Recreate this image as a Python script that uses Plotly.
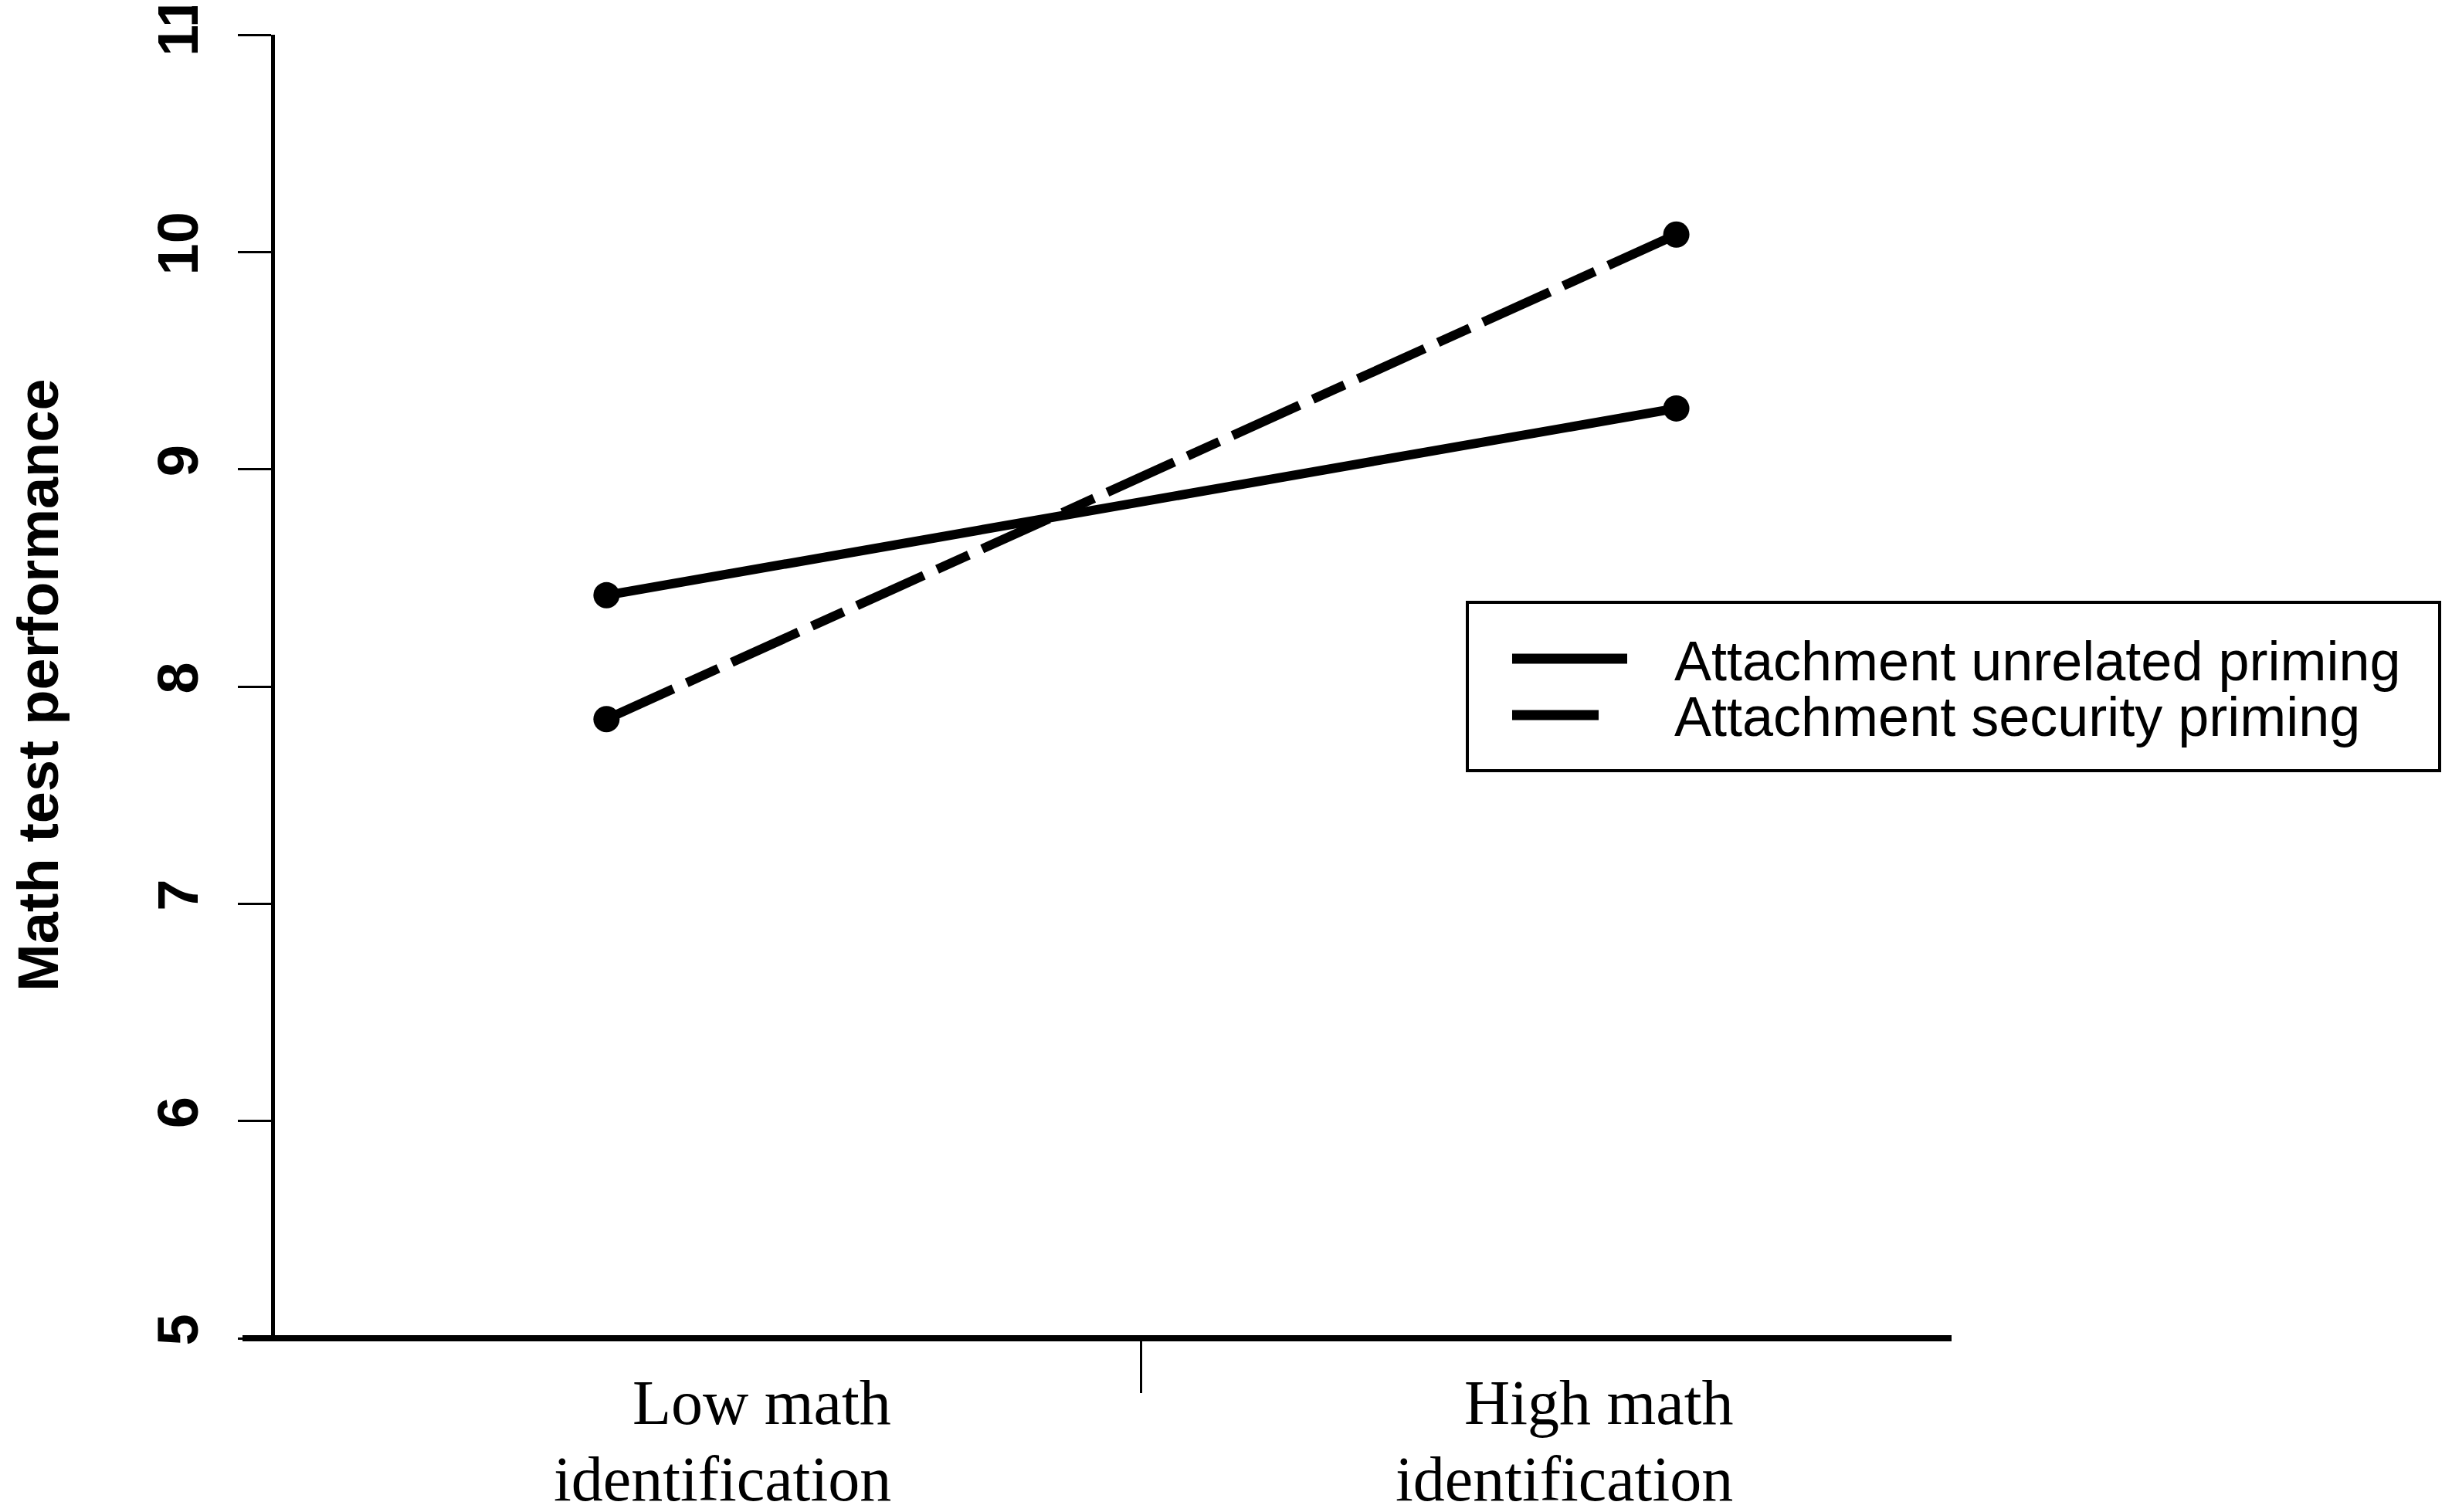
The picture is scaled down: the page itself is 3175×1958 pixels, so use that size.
import plotly.graph_objects as go

categorie = ["Low math<br>identification", "High math<br>identification"]
posizioni_x = [0, 1]
unrelated = [8.42, 9.28]  # Attachment unrelated priming
security = [7.85, 10.08]  # Attachment security priming
nomi_serie = ["Attachment unrelated priming", "Attachment security priming"]
tick_y = [5, 6, 7, 8, 9, 10, 11]

W, H = 3175, 1958
OFF = 8  # margine del body della pagina
ml, mt = 356 - OFF, 45 - OFF
mr = W - 2527 + OFF
mb = H - 1733 + OFF
pw = W - ml - mr
ph = H - mt - mb


def px_x(p):  # pixel dello schermo -> paper
    return (p - OFF - ml) / pw


def px_y(p):
    return (H - mb - (p - OFF)) / ph


fig = go.Figure()

fig.add_trace(go.Scatter(x=posizioni_x, y=unrelated, name=nomi_serie[0], mode="lines+markers",
                         line=dict(color="black", width=12),
                         marker=dict(color="black", size=34)))
fig.add_trace(go.Scatter(x=posizioni_x, y=security, name=nomi_serie[1], mode="lines+markers",
                         line=dict(color="black", width=12, dash="95px,19px,45px,19px"),
                         marker=dict(color="black", size=34)))

fig.update_layout(
    width=W, height=H,
    margin=dict(l=ml, r=mr, t=mt, b=mb),
    paper_bgcolor="white", plot_bgcolor="white",
    showlegend=False,
    font=dict(family="Liberation Sans, Arial", color="black"),
)

fig.update_xaxes(range=[(176 - 388) / 684, (1248 - 388) / 684], automargin=False,
                 showgrid=False, zeroline=False, showline=False,
                 tickvals=[0.5], ticktext=[""], ticks="outside",
                 ticklen=70, tickwidth=3, tickcolor="black")

fig.update_yaxes(range=[5, 11], tickvals=tick_y, automargin=False,
                 showgrid=False, zeroline=False,
                 showline=True, linecolor="black", linewidth=5,
                 ticks="outside", ticklen=43, tickwidth=3, tickcolor="black",
                 tickangle=-90, ticklabelstandoff=22, ticklabeloverflow="allow",
                 tickfont=dict(size=74, family="Liberation Sans, Arial", color="black", weight="bold"))

# asse x spesso, che parte dalla fine del tick del 5
fig.add_shape(type="line", xref="paper", yref="paper", x0=px_x(314), x1=1, y0=0, y1=0,
              line=dict(color="black", width=8))

# titolo asse y
fig.add_annotation(text="<b>Math test performance</b>", xref="paper", yref="paper",
                   x=px_x(50), y=px_y(887), textangle=-90, showarrow=False,
                   xanchor="center", yanchor="middle",
                   font=dict(size=74, family="Liberation Sans, Arial"))

# etichette categorie (allineate a destra)
destra = [1156, 2246]
for cat, xr in zip(categorie, destra):
    righe = cat.split("<br>")
    for riga, yc in zip(righe, [1816, 1916]):
        fig.add_annotation(text=riga, xref="paper", yref="paper", x=px_x(xr), y=px_y(yc),
                           xanchor="right", yanchor="middle", showarrow=False,
                           font=dict(size=82, family="Liberation Serif, Times New Roman"))

# legenda disegnata a mano
fig.add_shape(type="rect", xref="paper", yref="paper", x0=px_x(1900), x1=px_x(3159),
              y0=px_y(998), y1=px_y(780), line=dict(color="black", width=4))
fig.add_shape(type="line", xref="paper", yref="paper", x0=px_x(1958), x1=px_x(2107),
              y0=px_y(853), y1=px_y(853), line=dict(color="black", width=13))
fig.add_shape(type="line", xref="paper", yref="paper", x0=px_x(1958), x1=px_x(2070),
              y0=px_y(926), y1=px_y(926), line=dict(color="black", width=13))
for nome, yc in zip(nomi_serie, [856, 928]):
    fig.add_annotation(text=nome, xref="paper", yref="paper", x=px_x(2166), y=px_y(yc),
                       xanchor="left", yanchor="middle", showarrow=False,
                       font=dict(size=72, family="Liberation Sans, Arial"))

fig.write_html("out.html")
